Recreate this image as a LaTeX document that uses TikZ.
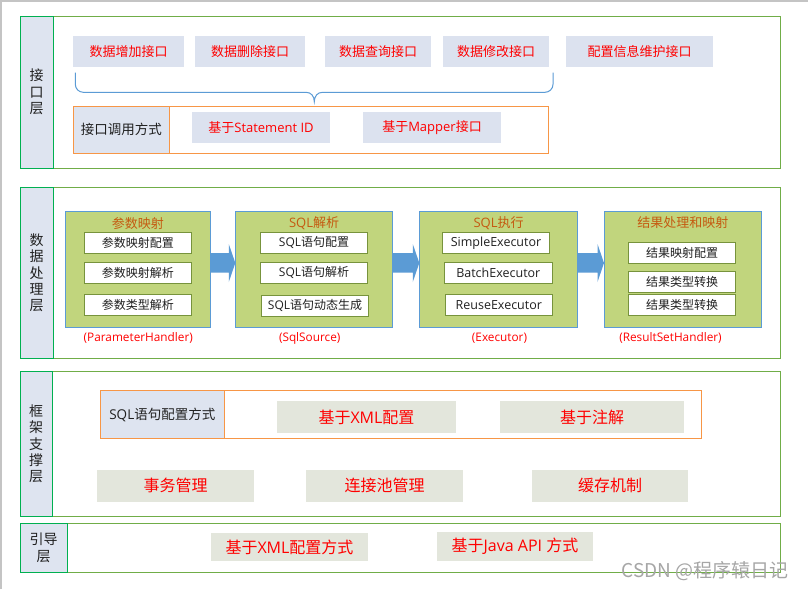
\documentclass[tikz,border=0pt]{standalone}
\usepackage{fontspec}
\setmainfont{Noto Sans CJK SC}
\newfontfamily\lat{Open Sans}
\usetikzlibrary{calc}
\newcommand\myfs[2]{\fontsize{#1}{#2}\selectfont}
\definecolor{layergreen}{HTML}{70AD47}
\definecolor{labgreen}{HTML}{00B050}
\definecolor{labfill}{HTML}{DEE4F0}
\definecolor{topfill}{HTML}{DCE2EF}
\definecolor{orng}{HTML}{F79646}
\definecolor{arrowblue}{HTML}{5B9BD5}
\definecolor{boxgreen}{HTML}{C1D57D}
\definecolor{inolive}{HTML}{77933C}
\definecolor{ttlbrown}{HTML}{C55A11}
\definecolor{grayfill}{HTML}{E3E6DC}
\definecolor{txt}{HTML}{202020}
\definecolor{framegray}{HTML}{C4C4C4}
\definecolor{wmgray}{HTML}{A6A6A6}
\newcommand\blkarrow[2]{%
  \fill[arrowblue] ($(#1.east)+(0.5,-16.3)$) -- ($(#2.west)+(-6.5,-16.3)$)
    -- ($(#2.west)+(-6.5,-25.5)$) -- ($(#2.west)+(0,-6.5)$)
    -- ($(#2.west)+(-6.5,12.5)$) -- ($(#2.west)+(-6.5,3.2)$)
    -- ($(#1.east)+(0.5,3.2)$) -- cycle;}
\tikzset{
  layer/.style={draw=layergreen, line width=1pt, rectangle},
  lab/.style={draw=labgreen, fill=labfill, line width=1pt, align=center, font={\myfs{14}{16.3}}, text=txt},
  topbox/.style={fill=topfill, text=red, font={\myfs{13}{15}}},
  orangebox/.style={draw=orng, line width=1pt},
  orangelab/.style={draw=orng, fill=labfill, line width=1pt, font={\myfs{13.5}{15}}, text=txt},
  greenbox/.style={draw=arrowblue, fill=boxgreen, line width=1pt},
  ttl/.style={text=ttlbrown, font={\myfs{13}{15}}},
  inbox/.style={draw=inolive, fill=white, line width=0.8pt, font={\myfs{12}{14}}, text=txt},
  sub/.style={text=red, font={\lat\myfs{11.8}{14}}},
  graybox/.style={fill=grayfill, text=red, font={\myfs{16}{18}}},
  brace/.style={draw=arrowblue, line width=1pt},
}
\begin{document}
\begin{tikzpicture}[x=1pt,y=-1pt, every node/.style={inner sep=0pt, outer sep=0pt}]
\useasboundingbox (0,0) rectangle (808,589);
\fill[white] (0,0) rectangle (808,589);
\draw[framegray, line width=1.5pt] (0.75,589) -- (0.75,0.75) -- (808,0.75);

% ---------- layer 1 ----------
\node[layer, minimum width=760, minimum height=152] (L1) at (400,92) {};
\node[lab, minimum width=33.3, minimum height=152] (L1lab) at (36.65,92) {接\\口\\层};
\node[topbox, minimum width=111, minimum height=31] (a1) at (128.5,51.5) {数据增加接口};
\node[topbox, minimum width=110, minimum height=31] (a2) at (250,51.5) {数据删除接口};
\node[topbox, minimum width=106, minimum height=31] (a3) at (378,51.5) {数据查询接口};
\node[topbox, minimum width=106, minimum height=31] (a4) at (496,51.5) {数据修改接口};
\node[topbox, minimum width=147, minimum height=31] (a5) at (639.5,51.5) {配置信息维护接口};
\draw[brace] (75.3,72.7) -- (75.3,84.3) arc[start angle=180, end angle=90, radius=8]
  -- (306,92.3) .. controls (311,92.3) and (314.3,96) .. (314.3,101.7)
  .. controls (314.3,96) and (317.6,92.3) .. (322.6,92.3)
  -- (545,92.3) arc[start angle=90, end angle=0, radius=8] -- (553,72.7);
\node[orangebox, minimum width=475, minimum height=46.3] (o1) at (310.5,129.85) {};
\node[orangelab, minimum width=96.7, minimum height=46.3] (o1lab) at (121.35,129.85) {接口调用方式};
\node[topbox, minimum width=138, minimum height=31] (b1) at (261,127.5) {基于{\lat Statement ID}};
\node[topbox, minimum width=138, minimum height=31] (b2) at (432,127.5) {基于{\lat Mapper}接口};

% ---------- layer 2 ----------
\node[layer, minimum width=760, minimum height=171] (L2) at (400,272.8) {};
\node[lab, minimum width=33.3, minimum height=171] (L2lab) at (36.65,272.8) {数\\据\\处\\理\\层};

\node[greenbox, minimum width=145.7, minimum height=115.6] (g1) at (137.85,269.5) {};
\node[greenbox, minimum width=157.4, minimum height=115.6] (g2) at (314,269.5) {};
\node[greenbox, minimum width=158.4, minimum height=115.6] (g3) at (498.5,269.5) {};
\node[greenbox, minimum width=157.7, minimum height=115.6] (g4) at (682.85,269.5) {};
\blkarrow{g1}{g2}
\blkarrow{g2}{g3}
\blkarrow{g3}{g4}

\node[ttl] (t1) at (137.85,223.3) {参数映射};
\node[ttl] (t2) at (314,223.3) {{\lat SQL}解析};
\node[ttl] (t3) at (498.5,223.3) {{\lat SQL}执行};
\node[ttl] (t4) at (682.85,222.7) {结果处理和映射};

\node[inbox, minimum width=107.7, minimum height=21] (p1) at (137.85,242.8) {参数映射配置};
\node[inbox, minimum width=107.7, minimum height=21] (p2) at (137.85,272.8) {参数映射解析};
\node[inbox, minimum width=107.7, minimum height=21] (p3) at (137.85,304.8) {参数类型解析};

\node[inbox, minimum width=107.4, minimum height=21] (s1) at (314,242.8) {{\lat SQL}语句配置};
\node[inbox, minimum width=107.4, minimum height=21] (s2) at (314,272.8) {{\lat SQL}语句解析};
\node[inbox, minimum width=107.4, minimum height=21] (s3) at (315,305.5) {{\lat SQL}语句动态生成};

\node[inbox, font={\lat\myfs{12.5}{15}}, minimum width=107.4, minimum height=21] (x1) at (496,242.8) {SimpleExecutor};
\node[inbox, font={\lat\myfs{12.5}{15}}, minimum width=108, minimum height=21] (x2) at (498.3,272.8) {BatchExecutor};
\node[inbox, font={\lat\myfs{12.5}{15}}, minimum width=107, minimum height=21] (x3) at (498.8,304.8) {ReuseExecutor};

\node[inbox, minimum width=107.4, minimum height=21] (r1) at (682,252.8) {结果映射配置};
\node[inbox, minimum width=107.4, minimum height=21] (r2) at (682,282) {结果类型转换};
\node[inbox, minimum width=107.4, minimum height=21] (r3) at (682,304.8) {结果类型转换};

\node[sub] (u1) at (138.3,338.3) {(ParameterHandler)};
\node[sub] (u2) at (309.7,338.3) {(SqlSource)};
\node[sub] (u3) at (499.5,338.3) {(Executor)};
\node[sub] (u4) at (670.5,338.3) {(ResultSetHandler)};

% ---------- layer 3 ----------
\node[layer, minimum width=760, minimum height=145] (L3) at (400,443.8) {};
\node[lab, minimum width=32.3, minimum height=145] (L3lab) at (36.15,443.8) {框\\架\\支\\撑\\层};
\node[orangebox, minimum width=601, minimum height=47.6] (o2) at (400.8,414.5) {};
\node[orangelab, minimum width=124, minimum height=47.6] (o2lab) at (162.3,414.5) {{\lat SQL}语句配置方式};
\node[graybox, minimum width=179, minimum height=31.4] (c1) at (366.5,417) {基于{\lat XML}配置};
\node[graybox, minimum width=184, minimum height=31.4] (c2) at (592,417) {基于注解};
\node[graybox, minimum width=157, minimum height=31.7] (d1) at (175.5,485.85) {事务管理};
\node[graybox, minimum width=157, minimum height=31.7] (d2) at (384.5,485.85) {连接池管理};
\node[graybox, minimum width=156, minimum height=31.7] (d3) at (610,485.85) {缓存机制};

% ---------- layer 4 ----------
\node[layer, minimum width=760, minimum height=49] (L4) at (400,547.8) {};
\node[lab, minimum width=47.3, minimum height=49] (L4lab) at (43.65,547.8) {引导\\层};
\node[graybox, minimum width=157, minimum height=28] (e1) at (289.5,547) {基于{\lat XML}配置方式};
\node[graybox, minimum width=156, minimum height=28.7] (e2) at (515,546.35) {基于{\lat Java API }方式};

% watermark
\node[text=wmgray, font={\myfs{19}{21}}] (wm) at (705.3,570.7) {CSDN @程序辕日记};
\end{tikzpicture}
\end{document}
